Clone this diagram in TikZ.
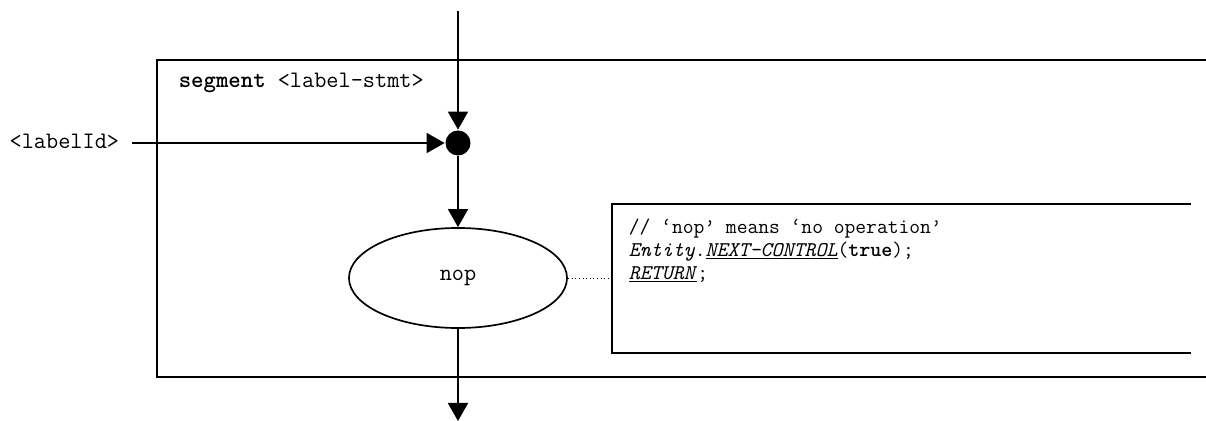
\documentclass[tikz,border=0pt]{standalone}
\usepackage{fontspec}
\usetikzlibrary{arrows.meta,shapes.geometric}

\begin{document}
\begin{tikzpicture}[x=0.025cm,y=-0.025cm,line width=1.2pt,
    flow/.style={-{Triangle[length=0.45cm,width=0.5cm]}},
    code/.style={font=\ttfamily\fontsize{16.8pt}{20pt}\selectfont,inner sep=0pt},
    note/.style={font=\ttfamily\fontsize{14.9pt}{17pt}\selectfont,inner sep=0pt,anchor=base west}]
  \useasboundingbox (0,0) rectangle (1206,421);
  % segment frame, open to the right
  \draw (1206,60) -- (157,60) -- (157,377) -- (1206,377);
  \node[code,anchor=base west] (title) at (178,87) {\textbf{segment} <label-stmt>};
  % comment box
  \draw (1191,204) -- (612,204) -- (612,353) -- (1191,353);
  \coordinate (cbox) at (612,278);
  \node[note] (c1) at (628,233) {// ‘nop’ means ‘no operation’};
  \node[note] (c2) at (628,256) {\textit{Entity}.\underline{\textit{NEXT-CONTROL}}(\textbf{true});};
  \node[note] (c3) at (628,279) {\underline{\textit{RETURN}};};
  % flow
  \coordinate (entry) at (458,11);
  \coordinate (lbl) at (132,143);
  \coordinate (exit) at (458,421);
  \node[circle,fill,minimum size=0.625cm,inner sep=0pt] (junction) at (458,143) {};
  \node[code,anchor=base east] (labelid) at (120,148) {<labelId>};
  \node[code,draw,ellipse,minimum width=5.45cm,minimum height=2.5cm] (nop) at (458,278) {nop};
  \draw[flow] (entry) -- (junction);
  \draw[flow] (lbl) -- (junction);
  \draw[flow] (junction) -- (nop);
  \draw[flow] (nop) -- (exit);
  \draw[dotted,line width=0.6pt] (nop.east) -- (cbox);
\end{tikzpicture}
\end{document}
